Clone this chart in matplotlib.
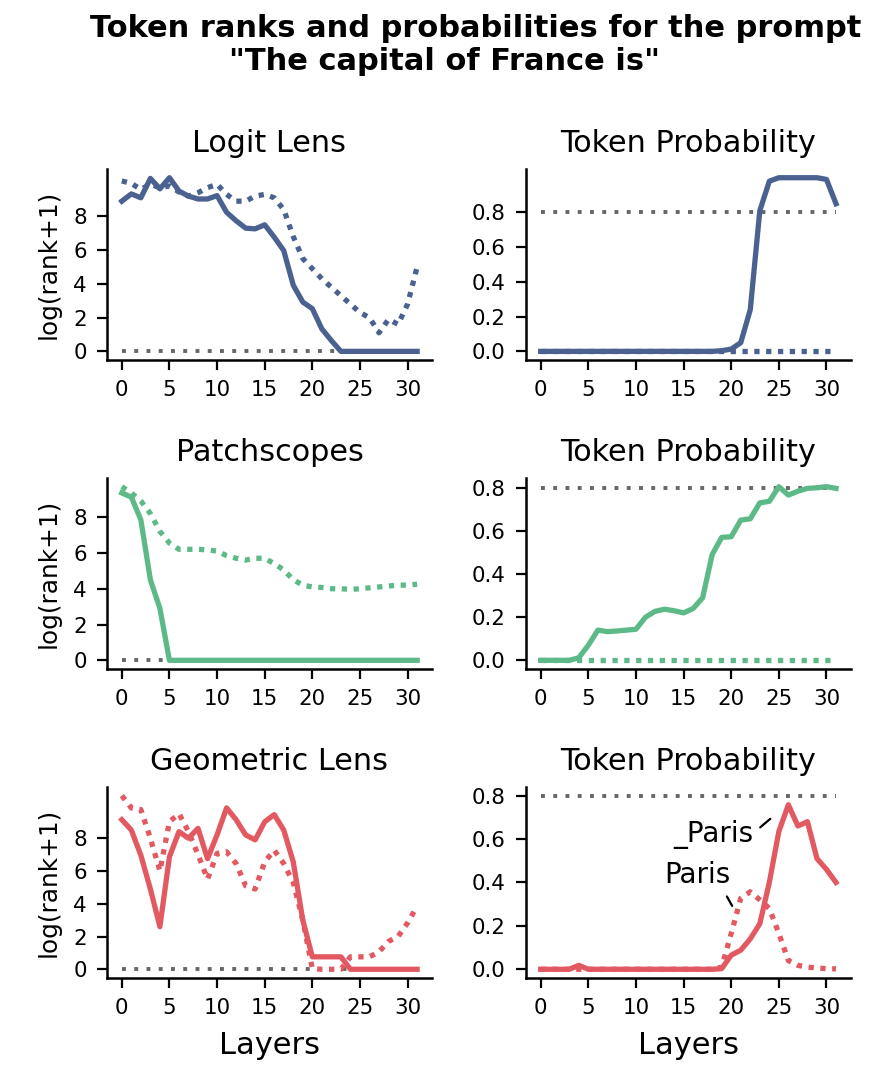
import matplotlib
matplotlib.use("Agg")
import matplotlib.pyplot as plt

layers = list(range(32))

# log(rank+1) per layer; "space" = " Paris" (solid), "plain" = "Paris" (dotted)
logit_rank_space = [8.9, 9.33, 9.1, 10.25, 9.63, 10.29, 9.5, 9.2, 9.03, 9.03,
                    9.23, 8.24, 7.74, 7.3, 7.26, 7.5, 6.77, 5.97, 3.92, 2.92,
                    2.53, 1.33, 0.64, 0.0, 0.0, 0.0, 0.0, 0.0, 0.0, 0.0, 0.0, 0.0]
logit_rank_plain = [10.1, 9.95, 9.6, 9.9, 9.7, 9.8, 9.45, 9.2, 9.4, 9.7,
                    9.9, 9.3, 8.9, 8.9, 9.2, 9.3, 9.1, 8.4, 6.8, 5.5,
                    4.9, 4.3, 3.8, 3.3, 2.8, 2.3, 2.0, 1.1, 1.9, 1.6, 2.8, 5.0]
patch_rank_space = [9.35, 9.12, 7.85, 4.5, 2.9, 0.0, 0.0, 0.0, 0.0, 0.0,
                    0.0, 0.0, 0.0, 0.0, 0.0, 0.0, 0.0, 0.0, 0.0, 0.0,
                    0.0, 0.0, 0.0, 0.0, 0.0, 0.0, 0.0, 0.0, 0.0, 0.0, 0.0, 0.0]
patch_rank_plain = [9.7, 9.35, 8.9, 8.2, 7.2, 6.55, 6.2, 6.2, 6.2, 6.17,
                    6.1, 5.85, 5.7, 5.6, 5.7, 5.7, 5.4, 5.05, 4.5, 4.2,
                    4.1, 4.07, 4.0, 4.0, 3.96, 4.0, 4.05, 4.1, 4.15, 4.2, 4.2, 4.25]
geo_rank_space = [9.13, 8.5, 6.96, 4.9, 2.6, 6.86, 8.4, 8.0, 8.6, 6.75,
                  8.2, 9.85, 9.13, 8.2, 7.9, 9.0, 9.44, 8.5, 6.55, 3.0,
                  0.76, 0.76, 0.76, 0.76, 0.0, 0.0, 0.0, 0.0, 0.0, 0.0, 0.0, 0.0]
geo_rank_plain = [10.6, 9.85, 9.75, 8.0, 6.0, 9.0, 9.5, 8.4, 7.0, 5.5,
                  7.07, 7.17, 6.45, 5.1, 4.9, 6.55, 7.27, 6.45, 5.3, 3.0,
                  0.04, 0.0, 0.0, 0.0, 0.76, 0.76, 0.76, 1.07, 1.7, 2.0, 2.83, 3.86]

# token probabilities per layer
logit_prob_space = [0.0, 0.0, 0.0, 0.0, 0.0, 0.0, 0.0, 0.0, 0.0, 0.0,
                    0.0, 0.0, 0.0, 0.0, 0.0, 0.0, 0.0, 0.0, 0.0, 0.004,
                    0.013, 0.05, 0.24, 0.81, 0.98, 1.0, 1.0, 1.0, 1.0, 1.0, 0.99, 0.85]
logit_prob_plain = [0.0, 0.0, 0.0, 0.0, 0.0, 0.0, 0.0, 0.0, 0.0, 0.0,
                    0.0, 0.0, 0.0, 0.0, 0.0, 0.0, 0.0, 0.0, 0.0, 0.0,
                    0.0, 0.0, 0.0, 0.0, 0.0, 0.0, 0.0, 0.0, 0.0, 0.0, 0.0, 0.0]
patch_prob_space = [0.0, 0.0, 0.0, 0.0, 0.012, 0.07, 0.14, 0.133, 0.136, 0.14,
                    0.144, 0.2, 0.227, 0.237, 0.23, 0.22, 0.24, 0.29, 0.49, 0.57,
                    0.573, 0.65, 0.656, 0.73, 0.737, 0.805, 0.766, 0.784, 0.797, 0.8, 0.805, 0.797]
patch_prob_plain = [0.0, 0.0, 0.0, 0.0, 0.0, 0.0, 0.0, 0.0, 0.0, 0.0,
                    0.0, 0.0, 0.0, 0.0, 0.0, 0.0, 0.0, 0.0, 0.0, 0.0,
                    0.0, 0.0, 0.0, 0.0, 0.0, 0.0, 0.0, 0.0, 0.0, 0.0, 0.0, 0.0]
geo_prob_space = [0.0, 0.0, 0.0, 0.0, 0.018, 0.0, 0.0, 0.0, 0.0, 0.0,
                  0.0, 0.0, 0.0, 0.0, 0.0, 0.0, 0.0, 0.0, 0.0, 0.003,
                  0.065, 0.088, 0.14, 0.21, 0.4, 0.635, 0.758, 0.66, 0.68, 0.51, 0.46, 0.40]
geo_prob_plain = [0.0, 0.0, 0.0, 0.0, 0.0, 0.0, 0.0, 0.0, 0.0, 0.0,
                  0.0, 0.0, 0.0, 0.0, 0.0, 0.0, 0.0, 0.0, 0.0, 0.01,
                  0.165, 0.327, 0.357, 0.32, 0.28, 0.165, 0.04, 0.018, 0.01, 0.006, 0.003, 0.002]

rank_ref = 0.0
prob_ref = 0.8
method_names = ["Logit Lens", "Patchscopes", "Geometric Lens"]
method_colors = ["#4b6290", "#5dba88", "#e35962"]
rank_ticks = [0, 2, 4, 6, 8]
prob_ticks = [0.0, 0.2, 0.4, 0.6, 0.8]
layer_ticks = [0, 5, 10, 15, 20, 25, 30]

ranks = [(logit_rank_space, logit_rank_plain),
         (patch_rank_space, patch_rank_plain),
         (geo_rank_space, geo_rank_plain)]
probs = [(logit_prob_space, logit_prob_plain),
         (patch_prob_space, patch_prob_plain),
         (geo_prob_space, geo_prob_plain)]

fig = plt.figure(figsize=(8.78, 10.78), dpi=100)

lefts = [0.1219, 0.599]
bottoms = [0.666, 0.3794, 0.0928]
w, h = 0.370, 0.1772
gray = "#666666"
LW = 3.8


def style(ax):
    for s in ["top", "right"]:
        ax.spines[s].set_visible(False)
    for s in ["left", "bottom"]:
        ax.spines[s].set_linewidth(1.8)
    ax.tick_params(length=7.5, width=1.6, pad=7, labelsize=15.4)
    ax.set_xticks(layer_ticks)


def draw(ax, ref, solid, dotted, col):
    ax.plot(layers, [ref] * len(layers), color=gray, lw=2.8, dashes=(1, 2.15))
    ax.plot(layers, solid, color=col, lw=LW, solid_joinstyle="round")
    ax.plot(layers, dotted, color=col, lw=LW, dashes=(1, 1.24))


for i in range(3):
    col = method_colors[i]
    # rank panel
    ax = fig.add_axes([lefts[0], bottoms[i], w, h])
    draw(ax, rank_ref, ranks[i][0], ranks[i][1], col)
    ax.set_yticks(rank_ticks)
    ax.set_title(method_names[i], fontsize=21.8, pad=12)
    ax.set_ylabel("log(rank+1)", fontsize=17.8, labelpad=9)
    style(ax)
    if i == 2:
        ax.set_xlabel("Layers", fontsize=22, labelpad=9)

    # probability panel
    ax = fig.add_axes([lefts[1], bottoms[i], w, h])
    draw(ax, prob_ref, probs[i][0], probs[i][1], col)
    ax.set_yticks(prob_ticks)
    ax.set_title("Token Probability", fontsize=21.8, pad=12)
    style(ax)
    if i == 2:
        ax.set_xlabel("Layers", fontsize=22, labelpad=9)
        ax.annotate("_Paris", xy=(24.1, 0.693), xytext=(18.1, 0.62),
                    ha="center", va="center", fontsize=20,
                    arrowprops=dict(arrowstyle="-", color="black", lw=1.6,
                                    relpos=(1.0, 0.55), shrinkA=4, shrinkB=0))
        ax.annotate("Paris", xy=(20.1, 0.292), xytext=(16.45, 0.435),
                    ha="center", va="center", fontsize=20,
                    arrowprops=dict(arrowstyle="-", color="black", lw=1.6,
                                    relpos=(0.88, 0.0), shrinkA=4, shrinkB=0))

fig.text(0.5416, 1 - 36.7 / 1078, "Token ranks and probabilities for the prompt",
         ha="center", va="baseline", fontsize=22, fontweight="bold")
fig.text(0.5057, 1 - 70 / 1078, '"The capital of France is"',
         ha="center", va="baseline", fontsize=22, fontweight="bold")

fig.savefig("out.png", dpi=100)
